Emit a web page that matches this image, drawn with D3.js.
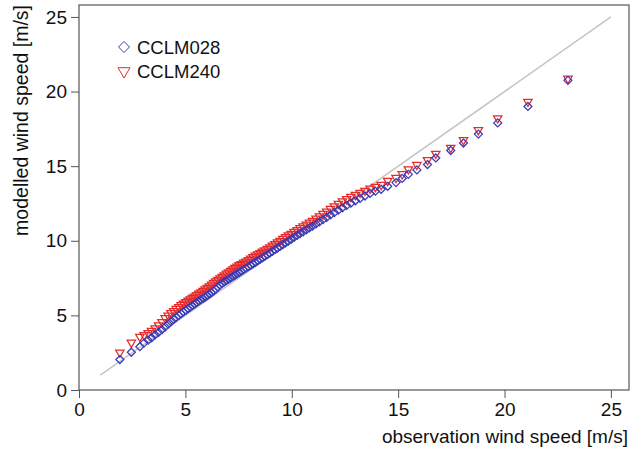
<!doctype html>
<html>
<head>
<meta charset="utf-8">
<title>QQ plot wind speed</title>
<script src="https://d3js.org/d3.v7.min.js"></script>
<style>
  body { margin: 0; background: #fff; }
  text { font-family: "Liberation Sans", Arial, Helvetica, sans-serif; fill: #111; }
</style>
</head>
<body>
<div id="chart"></div>
<script>
// observed quantiles (x) and modelled quantiles for each run (y)
var obsQ = [1.92, 2.46, 2.86, 3.06, 3.25, 3.41, 3.58, 3.74, 3.9, 4.05,
  4.19, 4.32, 4.45, 4.57, 4.69, 4.8, 4.91, 5.02, 5.13, 5.23,
  5.33, 5.43, 5.53, 5.63, 5.73, 5.83, 5.93, 6.03, 6.13, 6.23,
  6.33, 6.43, 6.53, 6.63, 6.73, 6.83, 6.93, 7.03, 7.13, 7.23,
  7.33, 7.43, 7.53, 7.63, 7.74, 7.85, 7.96, 8.07, 8.18, 8.29,
  8.4, 8.51, 8.62, 8.73, 8.85, 8.97, 9.09, 9.21, 9.33, 9.45,
  9.58, 9.71, 9.84, 9.97, 10.11, 10.25, 10.39, 10.53, 10.68, 10.83,
  10.98, 11.14, 11.3, 11.47, 11.64, 11.82, 12.0, 12.19, 12.38, 12.58,
  12.78, 12.99, 13.21, 13.44, 13.68, 13.93, 14.2, 14.51, 14.9, 15.19,
  15.48, 15.88, 16.38, 16.77, 17.47, 18.07, 18.77, 19.68, 21.1, 22.98];

var cclm028 = [2.04, 2.53, 2.9, 3.16, 3.34, 3.5, 3.7, 3.86, 4.04, 4.23,
  4.41, 4.57, 4.73, 4.87, 5.0, 5.12, 5.23, 5.34, 5.45, 5.55,
  5.65, 5.75, 5.85, 5.95, 6.05, 6.14, 6.23, 6.33, 6.43, 6.53,
  6.64, 6.76, 6.9, 7.04, 7.14, 7.24, 7.33, 7.42, 7.51, 7.6,
  7.69, 7.78, 7.87, 7.96, 8.06, 8.16, 8.26, 8.36, 8.46, 8.56,
  8.66, 8.76, 8.86, 8.96, 9.07, 9.18, 9.29, 9.4, 9.51, 9.62,
  9.74, 9.86, 9.98, 10.1, 10.23, 10.36, 10.48, 10.6, 10.73, 10.86,
  10.99, 11.13, 11.27, 11.42, 11.57, 11.73, 11.89, 12.05, 12.21, 12.37,
  12.52, 12.68, 12.84, 13.0, 13.17, 13.32, 13.45, 13.65, 13.9, 14.18,
  14.45, 14.75, 15.11, 15.55, 16.05, 16.55, 17.15, 17.9, 19.0, 20.75];

var cclm240 = [2.5, 3.16, 3.55, 3.66, 3.8, 3.95, 4.12, 4.32, 4.54, 4.8,
  4.98, 5.14, 5.28, 5.42, 5.55, 5.67, 5.78, 5.88, 5.98, 6.07,
  6.16, 6.25, 6.34, 6.44, 6.54, 6.64, 6.74, 6.84, 6.94, 7.05,
  7.16, 7.27, 7.37, 7.47, 7.57, 7.67, 7.78, 7.88, 7.98, 8.08,
  8.17, 8.26, 8.35, 8.43, 8.52, 8.6, 8.7, 8.8, 8.9, 8.99,
  9.08, 9.17, 9.26, 9.35, 9.45, 9.55, 9.66, 9.77, 9.88, 9.99,
  10.11, 10.23, 10.35, 10.46, 10.59, 10.71, 10.83, 10.95, 11.08, 11.2,
  11.33, 11.48, 11.63, 11.79, 11.95, 12.12, 12.3, 12.47, 12.63, 12.78,
  12.93, 13.06, 13.2, 13.34, 13.48, 13.6, 13.73, 14.0, 14.2, 14.45,
  14.78, 15.07, 15.4, 15.82, 16.22, 16.73, 17.4, 18.2, 19.3, 20.85];

var seriesNames = ["CCLM028", "CCLM240"];
var seriesColors = ["#3a3ab4", "#e62a2a"];
var tickValues = [0, 5, 10, 15, 20, 25];
var oneToOne = [1, 25];

var W = 630, H = 450;
var plotL = 79, plotR = 629, plotT = 5, plotB = 390;

var svg = d3.select("#chart").append("svg")
  .attr("width", W)
  .attr("height", H);

var x = d3.scaleLinear().domain([0, 25.85]).range([plotL, plotR]);
var y = d3.scaleLinear().domain([0, 25.8]).range([plotB, plotT]);

// 1:1 line
svg.append("line")
  .attr("x1", x(oneToOne[0])).attr("y1", y(oneToOne[0]))
  .attr("x2", x(oneToOne[1])).attr("y2", y(oneToOne[1]))
  .attr("stroke", "#c4c4c4")
  .attr("stroke-width", 1.5);

// axes
var xAxis = svg.append("g")
  .attr("transform", "translate(0," + plotB + ")")
  .call(d3.axisBottom(x).tickValues(tickValues).tickSize(8).tickPadding(5).tickSizeOuter(0));
var yAxis = svg.append("g")
  .attr("transform", "translate(" + plotL + ",0)")
  .call(d3.axisLeft(y).tickValues(tickValues).tickSize(8).tickPadding(4).tickSizeOuter(0));

[xAxis, yAxis].forEach(function(g) {
  g.select(".domain").remove();
  g.selectAll("line").attr("stroke", "#555");
  g.selectAll("text")
    .style("font-family", "'Liberation Sans', Arial, sans-serif")
    .style("font-size", "19px")
    .attr("fill", "#111");
});

// box
svg.append("rect")
  .attr("x", plotL).attr("y", plotT)
  .attr("width", plotR - plotL).attr("height", plotB - plotT)
  .attr("fill", "none")
  .attr("stroke", "#555")
  .attr("stroke-width", 1.2);

// axis titles
svg.append("text")
  .attr("x", plotR - 1)
  .attr("y", 443)
  .attr("text-anchor", "end")
  .style("font-size", "19px")
  .text("observation wind speed [m/s]");

svg.append("text")
  .attr("transform", "translate(28," + plotT + ") rotate(-90)")
  .attr("text-anchor", "end")
  .style("font-size", "19.5px")
  .text("modelled wind speed [m/s]");

// markers
var diamond = function(s) {
  return "M0," + (-s) + "L" + s + ",0L0," + s + "L" + (-s) + ",0Z";
};
var triangle = function(s) {
  var h = s * 1.15;
  return "M" + (-s) + "," + (-h * 0.55) + "L" + s + "," + (-h * 0.55) + "L0," + (h * 0.95) + "Z";
};

var pts240 = obsQ.map(function(o, i) { return [o, cclm240[i]]; });
var pts028 = obsQ.map(function(o, i) { return [o, cclm028[i]]; });

svg.append("g").selectAll("path")
  .data(pts240)
  .enter().append("path")
  .attr("d", triangle(4.2))
  .attr("transform", function(d) { return "translate(" + x(d[0]) + "," + y(d[1]) + ")"; })
  .attr("fill", "none")
  .attr("stroke", seriesColors[1])
  .attr("stroke-width", 1.25);

svg.append("g").selectAll("path")
  .data(pts028)
  .enter().append("path")
  .attr("d", diamond(4))
  .attr("transform", function(d) { return "translate(" + x(d[0]) + "," + y(d[1]) + ")"; })
  .attr("fill", "none")
  .attr("stroke", seriesColors[0])
  .attr("stroke-width", 1.25);

// legend
var legend = svg.selectAll(".legend")
  .data(seriesNames)
  .enter().append("g")
  .attr("class", "legend")
  .attr("transform", function(d, i) { return "translate(124," + (47 + i * 24.5) + ")"; });

legend.append("path")
  .attr("d", function(d, i) { return i === 0 ? diamond(5.5) : triangle(6); })
  .attr("fill", "none")
  .attr("stroke", function(d, i) { return seriesColors[i]; })
  .attr("stroke-width", 1);

legend.append("text")
  .attr("x", 13)
  .attr("y", 6.5)
  .style("font-size", "18.5px")
  .text(function(d) { return d; });
</script>
</body>
</html>
